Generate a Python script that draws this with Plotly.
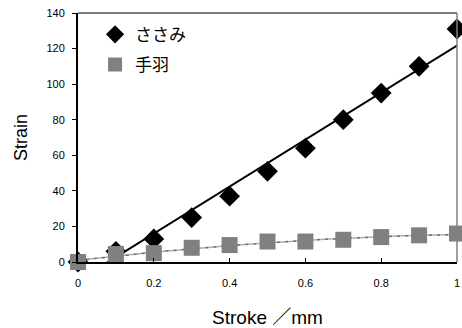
import numpy as np
import plotly.graph_objects as go

stroke = [0, 0.1, 0.2, 0.3, 0.4, 0.5, 0.6, 0.7, 0.8, 0.9, 1.0]
sasami = [0, 6, 13, 25, 37, 51, 64, 80, 95, 110, 131]
teba = [0, 4.5, 5, 8, 9.5, 11.5, 11.5, 12.5, 14, 15, 16]

x_ticks = [0, 0.2, 0.4, 0.6, 0.8, 1]
x_ticktext = ["0", "0.2", "0.4", "0.6", "0.8", "1"]
y_ticks = [0, 20, 40, 60, 80, 100, 120, 140]

JP = "Noto Sans CJK JP"
TITLE_FONT = "Liberation Sans, Noto Sans CJK JP"

# Trend lines: linear fit for ささみ, quadratic fit for 手羽
xs = np.linspace(0, 1, 101)
p1 = np.polyfit(stroke, sasami, 1)
p2 = np.polyfit(stroke, teba, 2)

fig = go.Figure()
fig.add_trace(go.Scatter(x=xs, y=np.polyval(p1, xs), mode="lines",
                         line=dict(color="black", width=2), showlegend=False,
                         hoverinfo="skip"))
fig.add_trace(go.Scatter(x=xs, y=np.polyval(p2, xs), mode="lines",
                         line=dict(color="#b0b0b0", width=1.5), showlegend=False,
                         hoverinfo="skip"))
fig.add_trace(go.Scatter(x=xs, y=np.polyval(p2, xs), mode="lines",
                         line=dict(color="#707070", width=1.5, dash="3px,5px"),
                         showlegend=False, hoverinfo="skip"))
fig.add_trace(go.Scatter(x=stroke, y=sasami, mode="markers", showlegend=False,
                         marker=dict(symbol="diamond", size=16, color="black"),
                         cliponaxis=False))
fig.add_trace(go.Scatter(x=stroke, y=teba, mode="markers", showlegend=False,
                         marker=dict(symbol="square", size=16, color="#808080"),
                         cliponaxis=False))

# legend entries (smaller symbols than the data markers)
fig.add_trace(go.Scatter(x=[None], y=[None], mode="markers", name="ささみ",
                         legendgroup="a",
                         marker=dict(symbol="diamond", size=14, color="black")))
fig.add_trace(go.Scatter(x=[None], y=[None], mode="markers", name="手羽",
                         legendgroup="b",
                         marker=dict(symbol="square", size=14, color="#808080")))

# top and right frame
fig.add_shape(type="line", xref="paper", yref="paper", x0=0, x1=1, y0=1, y1=1,
              line=dict(color="#505050", width=1.5))
fig.add_shape(type="line", xref="paper", yref="paper", x0=1, x1=1, y0=0, y1=1,
              line=dict(color="#808080", width=1.5))

fig.update_layout(
    width=462, height=328,
    margin=dict(l=78, r=5, t=13, b=66),
    paper_bgcolor="white", plot_bgcolor="white",
    font=dict(family="Liberation Sans, Arial", color="black"),
    legend=dict(x=0.045, y=0.985, xanchor="left", yanchor="top",
                bgcolor="rgba(0,0,0,0)", font=dict(family=JP, size=17),
                itemsizing="trace", tracegroupgap=5),
)
fig.update_xaxes(range=[0, 1], tickvals=x_ticks, ticktext=x_ticktext,
                 automargin=False,
                 showgrid=False, zeroline=False, showline=True,
                 linecolor="black", linewidth=2, ticks="inside", ticklen=4,
                 tickcolor="black", tickfont=dict(size=11),
                 ticklabelstandoff=10,
                 title=dict(text="Stroke ／mm", font=dict(family=TITLE_FONT, size=19),
                            standoff=27))
fig.update_yaxes(range=[0, 140], tickvals=y_ticks, showgrid=False,
                 automargin=False,
                 zeroline=False, showline=True, linecolor="black", linewidth=2,
                 ticks="outside", ticklen=4, tickcolor="black",
                 tickfont=dict(size=11), ticklabelstandoff=5,
                 title=dict(text="Strain", font=dict(family=TITLE_FONT, size=18),
                            standoff=14))

fig.write_html("out.html")
